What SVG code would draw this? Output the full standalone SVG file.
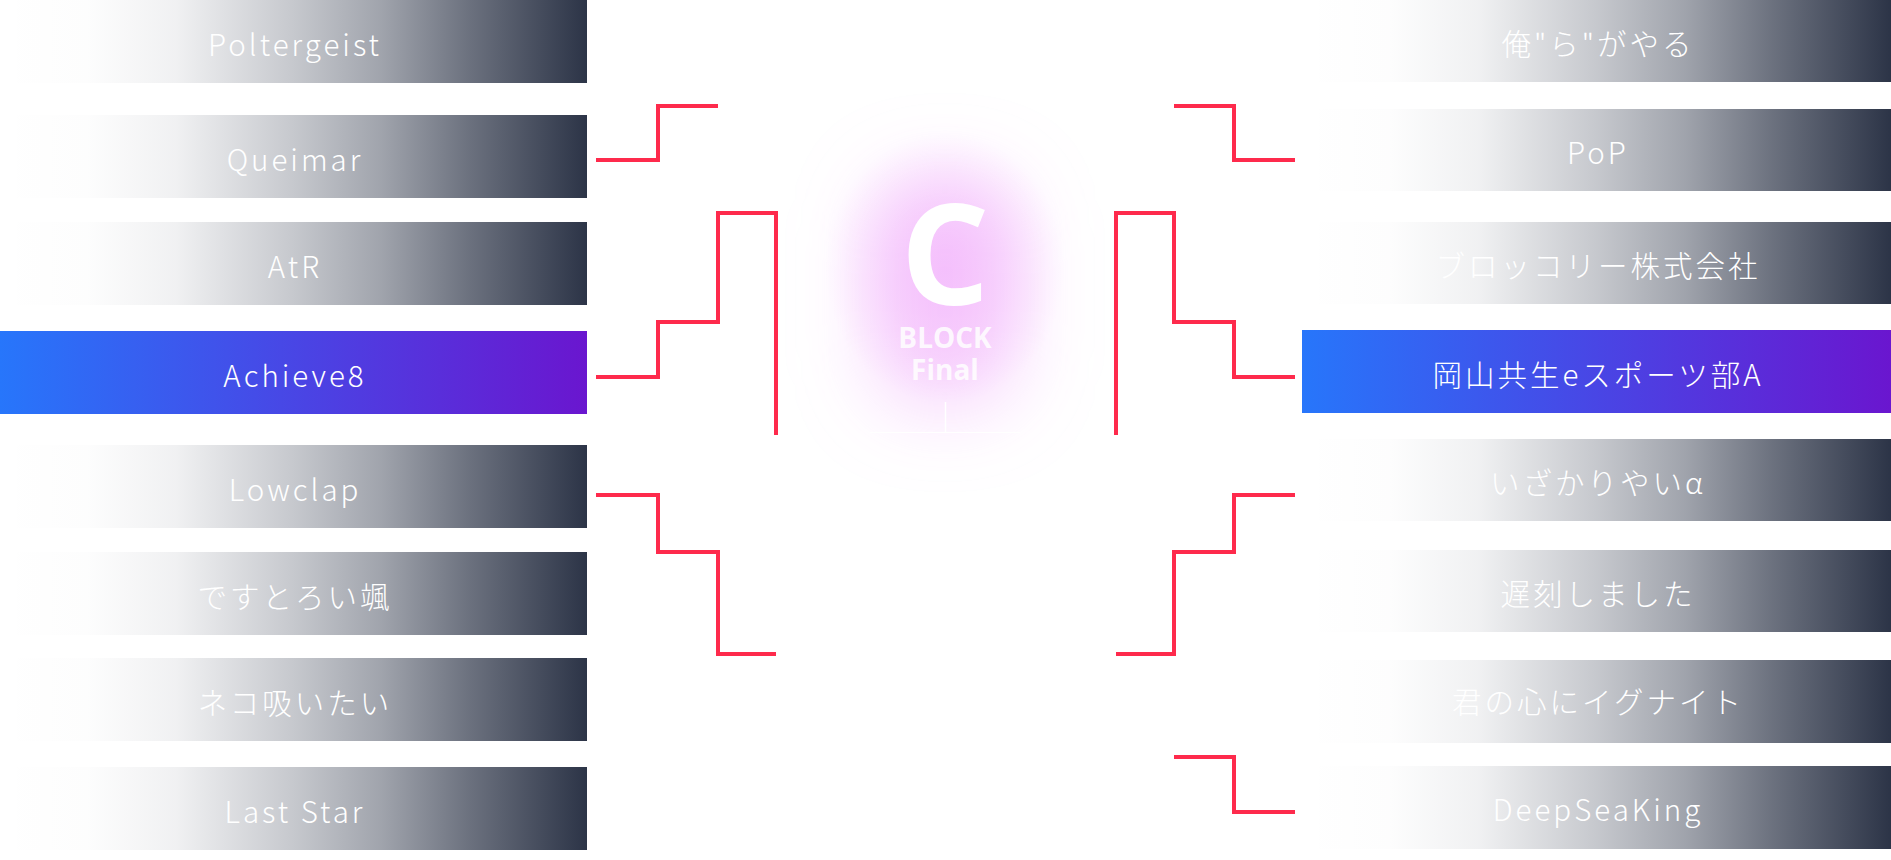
<svg xmlns="http://www.w3.org/2000/svg" width="1891" height="860" viewBox="0 0 1891 860">
<defs>
<linearGradient id="gray" x1="0" y1="0" x2="1" y2="0">
<stop offset="0" stop-color="#2c3447" stop-opacity="0"/>
<stop offset="0.15" stop-color="#2c3447" stop-opacity="0.01"/>
<stop offset="0.3" stop-color="#2c3447" stop-opacity="0.07"/>
<stop offset="0.5" stop-color="#2c3447" stop-opacity="0.27"/>
<stop offset="0.65" stop-color="#2c3447" stop-opacity="0.45"/>
<stop offset="0.8" stop-color="#2c3447" stop-opacity="0.7"/>
<stop offset="1" stop-color="#2c3447" stop-opacity="1"/>
</linearGradient>
<linearGradient id="hl" x1="0" y1="0" x2="1" y2="0">
<stop offset="0" stop-color="#2776fb"/>
<stop offset="1" stop-color="#6a16cf"/>
</linearGradient>
<radialGradient id="core" cx="0.5" cy="0.5" r="0.5">
<stop offset="0" stop-color="#ee99fb" stop-opacity="0.38"/>
<stop offset="0.5" stop-color="#ee99fb" stop-opacity="0.22"/>
<stop offset="1" stop-color="#ee99fb" stop-opacity="0"/>
</radialGradient>
<filter id="blur" x="-100%" y="-100%" width="300%" height="300%">
<feGaussianBlur stdDeviation="38"/>
</filter>
</defs>
<style>
.g{fill:url(#gray)}
.h{fill:url(#hl)}
.t{font-family:"Noto Sans CJK JP","Noto Sans",sans-serif;font-size:29.5px;letter-spacing:3px;font-weight:300;fill:#fff;text-anchor:middle;dominant-baseline:central}
.c{fill:none;stroke:#fe2a4c;stroke-width:4;stroke-linecap:butt;stroke-linejoin:miter}
.e{font-family:"Open Sans","Noto Sans",sans-serif;font-weight:700;text-anchor:middle}
</style>
<rect width="1891" height="860" fill="#fff"/>

<g id="emblem">
<rect x="870" y="175" width="150" height="235" rx="55" fill="#ee99fb" fill-opacity="0.4" filter="url(#blur)"/>
<ellipse cx="945" cy="268" rx="120" ry="135" fill="url(#core)"/>
<text class="e" x="945" y="305" font-size="140" fill="#fff">C</text>
<text class="e" x="945" y="348" font-size="28" fill="#fff" fill-opacity="0.85">BLOCK</text>
<text class="e" x="945" y="380" font-size="28" fill="#fff" fill-opacity="0.85">Final</text>
<line x1="945.5" y1="402" x2="945.5" y2="432" stroke="#fff" stroke-width="1.5"/>
<line x1="870" y1="432.5" x2="1020" y2="432.5" stroke="#fff" stroke-width="1"/>
</g>

<g id="left-1"><rect class="g" x="0" y="0" width="587" height="83"/><text class="t" x="295" y="42.5">Poltergeist</text></g>
<g id="left-2"><rect class="g" x="0" y="115" width="587" height="83"/><text class="t" x="295" y="157.5">Queimar</text></g>
<g id="left-3"><rect class="g" x="0" y="222" width="587" height="83"/><text class="t" x="295" y="264.5">AtR</text></g>
<g id="left-4"><rect class="h" x="0" y="331" width="587" height="83"/><text class="t" x="295" y="373.5">Achieve8</text></g>
<g id="left-5"><rect class="g" x="0" y="445" width="587" height="83"/><text class="t" x="295" y="487.5">Lowclap</text></g>
<g id="left-6"><rect class="g" x="0" y="552" width="587" height="83"/><text class="t" x="295" y="594.5">ですとろい颯</text></g>
<g id="left-7"><rect class="g" x="0" y="658" width="587" height="83"/><text class="t" x="295" y="700.5">ネコ吸いたい</text></g>
<g id="left-8"><rect class="g" x="0" y="767" width="587" height="83"/><text class="t" x="295" y="809.5">Last Star</text></g>

<g id="right-1"><rect class="g" x="1302" y="0" width="589" height="82"/><text class="t" x="1598" y="42">俺"ら"がやる</text></g>
<g id="right-2"><rect class="g" x="1302" y="109" width="589" height="82"/><text class="t" x="1598" y="151">PoP</text></g>
<g id="right-3"><rect class="g" x="1302" y="222" width="589" height="82"/><text class="t" x="1598" y="264">ブロッコリー株式会社</text></g>
<g id="right-4"><rect class="h" x="1302" y="330" width="589" height="83"/><text class="t" x="1598" y="373">岡山共生eスポーツ部A</text></g>
<g id="right-5"><rect class="g" x="1302" y="439" width="589" height="82"/><text class="t" x="1598" y="481">いざかりやいα</text></g>
<g id="right-6"><rect class="g" x="1302" y="550" width="589" height="82"/><text class="t" x="1598" y="592">遅刻しました</text></g>
<g id="right-7"><rect class="g" x="1302" y="660" width="589" height="83"/><text class="t" x="1598" y="700">君の心にイグナイト</text></g>
<g id="right-8"><rect class="g" x="1302" y="766" width="589" height="83"/><text class="t" x="1598" y="808">DeepSeaKing</text></g>

<g id="connectors">
<path class="c" d="M596,160 H658 V106 H718"/>
<path class="c" d="M596,377 H658 V322 H718 V213 H776 V435"/>
<path class="c" d="M596,495 H658 V552 H718 V654 H776"/>
<path class="c" d="M1295,160 H1234 V106 H1174"/>
<path class="c" d="M1295,377 H1234 V322 H1174 V213 H1116 V435"/>
<path class="c" d="M1295,495 H1234 V552 H1174 V654 H1116"/>
<path class="c" d="M1295,812 H1234 V757 H1174"/>
</g>
</svg>
